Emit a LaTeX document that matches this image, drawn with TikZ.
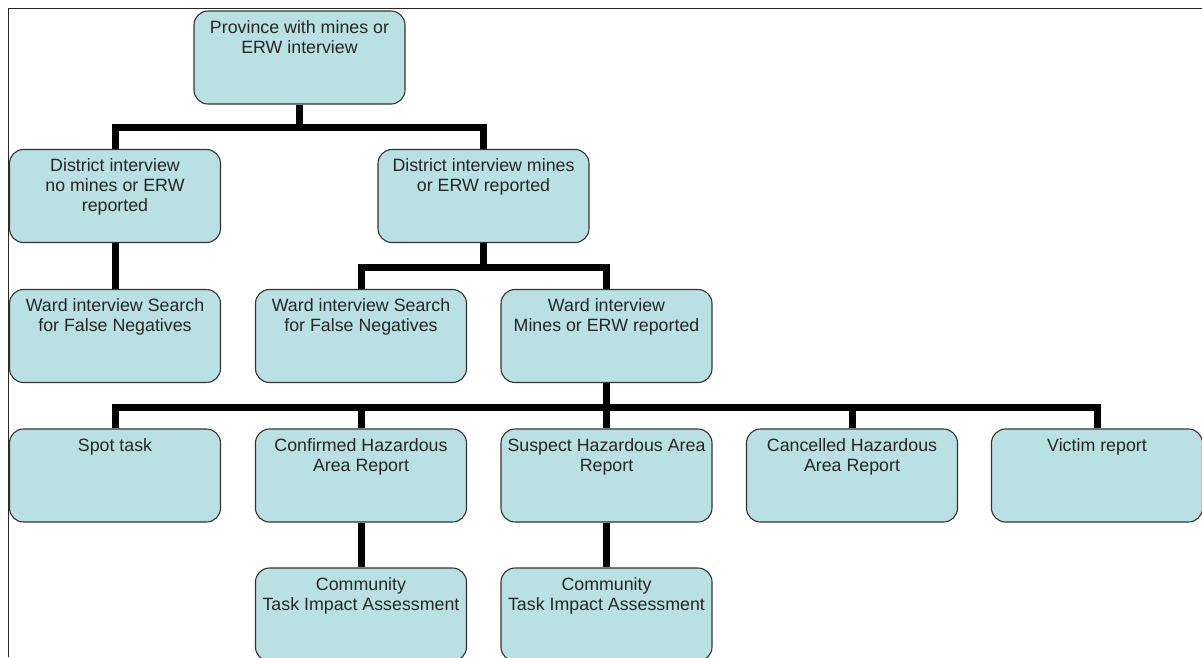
\documentclass[tikz,border=0pt]{standalone}
\usepackage{fontspec}
\setmainfont{Liberation Sans}
\definecolor{boxfill}{RGB}{185,224,227}
\newcommand{\boxtext}[1]{\parbox[c][77pt][t]{205pt}{\centering\fontsize{17.8}{20}\selectfont\strut #1}}

\begin{document}
\begin{tikzpicture}[x=1pt,y=-1pt,
  box/.style={draw=black!80,line width=1.1pt,fill=boxfill,rounded corners=14pt,
    inner xsep=3pt,inner ysep=8pt,text=black!85},
  link/.style={line width=7pt}]
\useasboundingbox (0,0) rectangle (1202,657);
\draw[black!85,line width=0.9pt] (8,657) -- (8,8) -- (1202,8);
% province and districts
\node[box] (prov) at (299.5,57.5) {\boxtext{Province with mines or\\ERW interview}};
\node[box] (dno) at (115,196) {\boxtext{District interview\\no mines or ERW\\reported}};
\node[box] (dmine) at (483.5,196) {\boxtext{District interview mines\\or ERW reported}};
% wards
\node[box] (wleft) at (115,336) {\boxtext{Ward interview Search\\for False Negatives}};
\node[box] (wsfn) at (361,336) {\boxtext{Ward interview Search\\for False Negatives}};
\node[box] (wmine) at (606.5,336) {\boxtext{Ward interview\\Mines or ERW reported}};
% reports
\node[box] (spot) at (115,475.5) {\boxtext{Spot task}};
\node[box] (conf) at (361,475.5) {\boxtext{Confirmed Hazardous\\Area Report}};
\node[box] (susp) at (606.5,475.5) {\boxtext{Suspect Hazardous Area\\Report}};
\node[box] (canc) at (852,475.5) {\boxtext{Cancelled Hazardous\\Area Report}};
\node[box] (vict) at (1097,475.5) {\boxtext{Victim report}};
\node[box] (comm1) at (361,614.5) {\boxtext{Community\\Task Impact Assessment}};
\node[box] (comm2) at (606.5,614.5) {\boxtext{Community\\Task Impact Assessment}};
% links
\draw[link] (prov.south) -- ++(0,23) -| (dno.north);
\draw[link] (prov.south) -- ++(0,23) -| (dmine.north);
\draw[link] (dno.south) -- (wleft.north);
\draw[link] (dmine.south) -- ++(0,24) -| (wsfn.north);
\draw[link] (dmine.south) -- ++(0,24) -| (wmine.north);
\foreach \n in {spot,conf,susp,canc,vict}
\draw[link] (wmine.south) -- ++(0,24) -| (\n.north);
\draw[link] (conf.south) -- (comm1.north);
\draw[link] (susp.south) -- (comm2.north);
\end{tikzpicture}
\end{document}
